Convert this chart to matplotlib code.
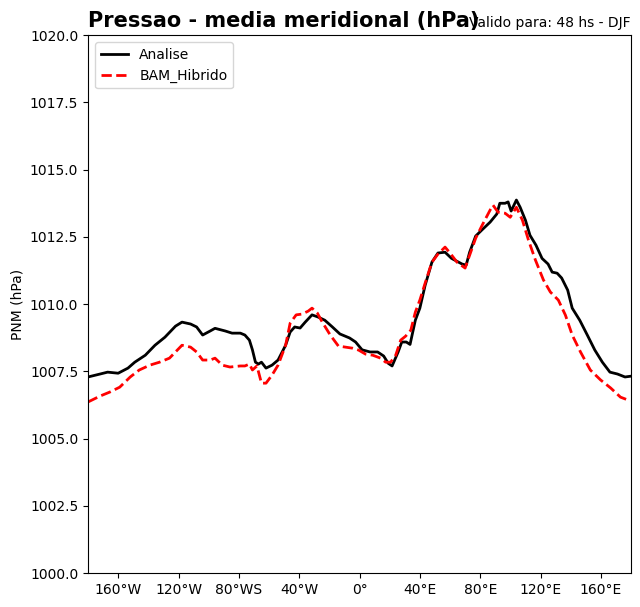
import matplotlib
matplotlib.use("Agg")
import matplotlib.pyplot as plt

# longitudes / values
lon_analise = [-180, -172, -167, -160, -153.5, -149, -142, -135.6, -129, -122, -117.7, -112, -108, -104,
               -99, -95.8, -89, -84.5, -79, -76, -73, -71, -69, -67, -65, -62, -58, -54, -49, -46, -43,
               -39.4, -36, -31.5, -27.5, -23, -18, -13, -6.6, -2.6, 1.7, 7, 12, 16, 19, 21.6, 25.6, 28,
               31, 33.5, 37, 40, 43.5, 48, 52, 56.7, 61, 68, 70.7, 73, 77, 81, 86.6, 91, 93, 96.5, 98.5,
               100.5, 104, 106.5, 110, 113, 117, 121, 125, 127.7, 131, 134, 138, 141, 146, 151, 156, 161,
               166, 171, 176, 180]
analise = [1007.29, 1007.4, 1007.47, 1007.43, 1007.62, 1007.84, 1008.1, 1008.47, 1008.77, 1009.18, 1009.33,
           1009.26, 1009.15, 1008.85, 1009.0, 1009.1, 1009.0, 1008.92, 1008.92, 1008.85, 1008.66, 1008.3,
           1007.84, 1007.77, 1007.84, 1007.62, 1007.73, 1007.92, 1008.47, 1008.96, 1009.15, 1009.11, 1009.33,
           1009.6, 1009.52, 1009.4, 1009.15, 1008.89, 1008.74, 1008.59, 1008.3, 1008.22, 1008.22, 1008.07,
           1007.8, 1007.7, 1008.22, 1008.59, 1008.59, 1008.5, 1009.4, 1009.85, 1010.7, 1011.56, 1011.9,
           1011.93, 1011.7, 1011.49, 1011.45, 1011.93, 1012.53, 1012.75, 1013.05, 1013.35, 1013.75, 1013.75,
           1013.8, 1013.46, 1013.87, 1013.6, 1013.12, 1012.56, 1012.19, 1011.7, 1011.49, 1011.19, 1011.15,
           1010.97, 1010.52, 1009.85, 1009.4, 1008.85, 1008.29, 1007.84, 1007.47, 1007.4, 1007.29, 1007.32]

lon_bam = [-180, -172, -165.5, -159, -152, -146, -139, -132.6, -126, -122, -117.7, -112, -108, -104, -99,
           -95.8, -91, -85.9, -79, -76, -73, -71, -68, -65, -62, -58, -54, -49, -46, -42, -38, -34,
           -31.5, -28, -24.7, -19.4, -14, -9.3, -4.6, -0.6, 4, 8.7, 14, 17.3, 20.6, 24, 27.3, 30.6, 34,
           37, 40, 43.5, 48, 52, 56.7, 60, 64.6, 70, 73, 77, 81, 86.6, 88.5, 91.8, 96.5, 99.9, 104, 108,
           112, 116.6, 121.9, 126.5, 131.8, 136.5, 141, 146.5, 153, 159.8, 166.5, 173, 179.5]
bam = [1006.36, 1006.58, 1006.73, 1006.91, 1007.29, 1007.55, 1007.73, 1007.84, 1007.99, 1008.22, 1008.47,
       1008.4, 1008.22, 1007.92, 1007.92, 1007.99, 1007.73, 1007.66, 1007.7, 1007.7, 1007.77, 1007.55,
       1007.7, 1007.06, 1007.06, 1007.36, 1007.73, 1008.47, 1009.29, 1009.6, 1009.63, 1009.74, 1009.85,
       1009.67, 1009.33, 1008.85, 1008.44, 1008.4, 1008.36, 1008.29, 1008.14, 1008.1, 1007.99, 1007.84,
       1007.84, 1008.1, 1008.66, 1008.81, 1009.03, 1009.7, 1010.15, 1010.78, 1011.56, 1011.86, 1012.12,
       1011.9, 1011.56, 1011.34, 1011.82, 1012.45, 1012.9, 1013.5, 1013.68, 1013.42, 1013.38, 1013.23,
       1013.6, 1013.12, 1012.38, 1011.64, 1010.9, 1010.45, 1010.15, 1009.59, 1008.85, 1008.22, 1007.55,
       1007.18, 1006.88, 1006.54, 1006.4]

xticks = [-160, -120, -80, -40, 0, 40, 80, 120, 160]
xticklabels = ["160°W", "120°W", "80°WS", "40°W", "0°", "40°E", "80°E", "120°E", "160°E"]
yticks = [1000.0, 1002.5, 1005.0, 1007.5, 1010.0, 1012.5, 1015.0, 1017.5, 1020.0]

fig = plt.figure(figsize=(6.4, 6.07), dpi=100)
ax = fig.add_axes([0.1375, 0.056, 0.8485, 0.886])

ax.plot(lon_analise, analise, color="black", lw=2, label="Analise")
ax.plot(lon_bam, bam, color="red", lw=2, ls="--", label="BAM_Hibrido")

ax.set_xlim(-180, 180)
ax.set_ylim(1000, 1020)
ax.set_xticks(xticks)
ax.set_xticklabels(xticklabels)
ax.set_yticks(yticks)
ax.set_yticklabels([f"{v:.1f}" for v in yticks])
ax.set_ylabel("PNM (hPa)")

ax.set_title("Pressao - media meridional (hPa)", loc="left", fontsize=15, fontweight="bold")
ax.set_title("Valido para: 48 hs - DJF", loc="right", fontsize=10)
ax.legend(loc="upper left")

fig.savefig("out.png", dpi=100)
